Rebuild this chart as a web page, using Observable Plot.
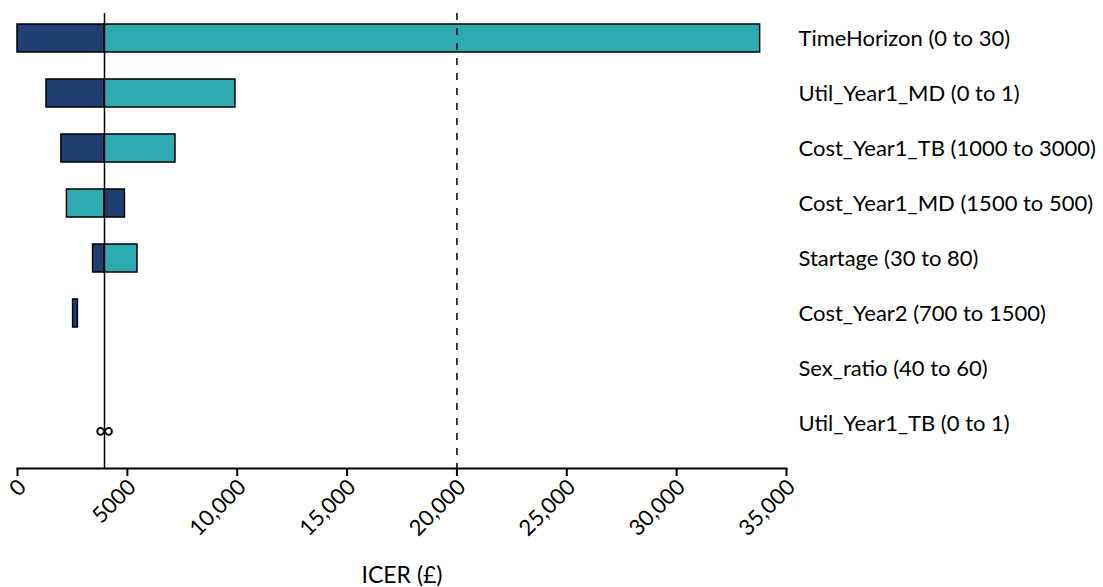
<!DOCTYPE html>
<html>
<head>
<meta charset="utf-8">
<script src="https://cdn.jsdelivr.net/npm/d3@7"></script>
<script src="https://cdn.jsdelivr.net/npm/@observablehq/plot@0.6"></script>
<style>
  html, body { margin: 0; padding: 0; background: #fff; }
  #chart { width: 1103px; height: 587px; }
</style>
</head>
<body>
<div id="chart"></div>
<script>
// Parameters (top to bottom)
const params = [
  "TimeHorizon (0 to 30)",
  "Util_Year1_MD (0 to 1)",
  "Cost_Year1_TB (1000 to 3000)",
  "Cost_Year1_MD (1500 to 500)",
  "Startage (30 to 80)",
  "Cost_Year2 (700 to 1500)",
  "Sex_ratio (40 to 60)",
  "Util_Year1_TB (0 to 1)"
];
// Base-case ICER and willingness-to-pay threshold (£)
const baseICER = 3960;
const wtpThreshold = 20000;
// Dark (low value) bar extents, ICER £
const darkFrom = [0, 1320, 2000, 3960, 3440, 2530, null, null];
const darkTo   = [3960, 3960, 3960, 4890, 3960, 2750, null, null];
// Teal (high value) bar extents, ICER £
const tealFrom = [3960, 3960, 3960, 2250, 3960, null, null, null];
const tealTo   = [33800, 9920, 7190, 3960, 5460, null, null, null];
// Parameters giving an infinite ICER
const infiniteParams = ["Util_Year1_TB (0 to 1)"];
// Axis ticks
const xTicks = [0, 5000, 10000, 15000, 20000, 25000, 30000, 35000];
const xLabel = "ICER (£)";

const darkColor = "#1f3f73";
const tealColor = "#2eabb0";

const dark = params.map((p, i) => ({param: p, x1: darkFrom[i], x2: darkTo[i]})).filter(d => d.x1 != null);
const teal = params.map((p, i) => ({param: p, x1: tealFrom[i], x2: tealTo[i]})).filter(d => d.x1 != null);
const inf = infiniteParams.map(p => ({param: p, x: baseICER}));

const fmt = d => d >= 10000 ? d3.format(",")(d) : String(d);

const chart = Plot.plot({
  width: 1103,
  height: 587,
  marginLeft: 17,
  marginRight: 317,
  marginTop: 13,
  marginBottom: 119,
  style: {fontFamily: "Lato, 'DejaVu Sans', sans-serif", color: "#000", background: "#fff"},
  x: {domain: [0, 35000]},
  y: {domain: params, range: [10.5, 450.5], paddingInner: 0.4909, paddingOuter: 0.2455, round: false},
  marks: [
    Plot.barX(teal, {y: "param", x1: "x1", x2: "x2", fill: tealColor, stroke: "#000", strokeWidth: 1.5}),
    Plot.barX(dark, {y: "param", x1: "x1", x2: "x2", fill: darkColor, stroke: "#000", strokeWidth: 1.5}),
    Plot.ruleX([wtpThreshold], {stroke: "#000", strokeWidth: 1.5, strokeDasharray: "7,8"}),
    Plot.ruleX([baseICER], {stroke: "#000", strokeWidth: 1.5}),
    Plot.text(inf, {x: "x", y: "param", text: () => "∞", fontSize: 26, dy: 7}),
    Plot.frame({anchor: "bottom", stroke: "#000", strokeWidth: 2}),
    Plot.axisX({ticks: xTicks, tickFormat: () => "", tickSize: 8, strokeWidth: 2, label: null}),
    Plot.axisX({ticks: xTicks, tickFormat: fmt, tickRotate: -45, tickSize: 0, tickPadding: 11, fontSize: 22, label: null, dx: 5, dy: 4}),
    Plot.axisY({anchor: "right", tickSize: 0, tickPadding: 12, fontSize: 22, label: null}),
    Plot.text([xLabel], {frameAnchor: "bottom", dy: 107, fontSize: 23, lineAnchor: "middle"})
  ]
});
document.getElementById("chart").appendChild(chart);
</script>
</body>
</html>
